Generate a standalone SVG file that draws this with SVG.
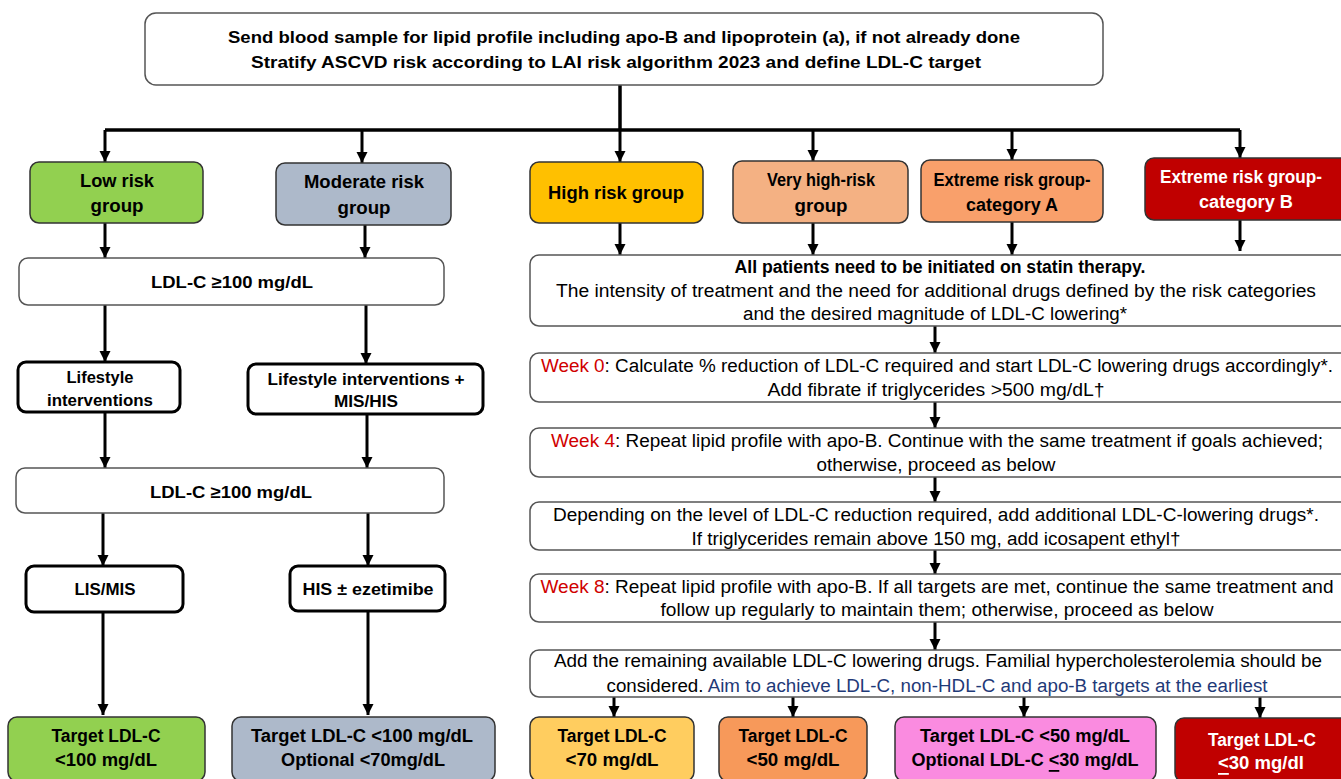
<svg xmlns="http://www.w3.org/2000/svg" width="1341" height="779" viewBox="0 0 1341 779">
<defs>
<marker id="ah" viewBox="0 0 10 10" refX="10" refY="5" markerWidth="11" markerHeight="12" markerUnits="userSpaceOnUse" orient="auto">
<path d="M0,0 L10,5 L0,10 z" fill="#000"/>
</marker>
<style>
text{font-family:"Liberation Sans",Arial,sans-serif;text-anchor:middle;dominant-baseline:central;fill:#000}
.b{font-weight:bold}
.t{font-size:18px}
.s{font-size:17px}
.w{fill:#fff}
.red{fill:#d00000}
.blue{fill:#1f3a78}
.thin{fill:#fff;stroke:#555;stroke-width:1.5}
.thick{fill:#fff;stroke:#000;stroke-width:3}
.grp{stroke:#333;stroke-width:1.5}
.c{fill:none;stroke:#000;stroke-width:3.5}
.c2{fill:none;stroke:#000;stroke-width:3;marker-end:url(#ah)}
</style>
</defs>
<rect width="1341" height="779" fill="#fff"/>

<g id="connectors">
<path class="c" d="M620,85 V130"/>
<path class="c" d="M105,130 H1240"/>
<path class="c2" d="M105,130 V162"/>
<path class="c2" d="M362,130 V163"/>
<path class="c2" d="M620,130 V162"/>
<path class="c2" d="M813,130 V161"/>
<path class="c2" d="M1012,130 V160"/>
<path class="c2" d="M1240,130 V158"/>
<path class="c2" d="M105,223 V258"/>
<path class="c2" d="M365,225 V258"/>
<path class="c2" d="M620,223 V255"/>
<path class="c2" d="M813,223 V255"/>
<path class="c2" d="M1012,222 V255"/>
<path class="c2" d="M1240,220 V251"/>
<path class="c2" d="M105,305 V362"/>
<path class="c2" d="M366,305 V364"/>
<path class="c2" d="M105,412 V468"/>
<path class="c2" d="M367,414 V468"/>
<path class="c2" d="M103,513 V566"/>
<path class="c2" d="M368,513 V566"/>
<path class="c2" d="M103,612 V715"/>
<path class="c2" d="M368,611 V715"/>
<path class="c2" d="M935,326 V353"/>
<path class="c2" d="M935,402 V428"/>
<path class="c2" d="M935,477 V502"/>
<path class="c2" d="M935,550 V574"/>
<path class="c2" d="M935,622 V650"/>
<path class="c2" d="M614,697 V717"/>
<path class="c2" d="M793,697 V717"/>
<path class="c2" d="M1024,697 V717"/>
<path class="c2" d="M1260,697 V718"/>
</g>

<g id="top">
<rect x="145" y="13" width="958" height="72" rx="11" class="thin"/>
<text x="624" y="37" class="b s" textLength="792" lengthAdjust="spacingAndGlyphs">Send blood sample for lipid profile including apo-B and lipoprotein (a), if not already done</text>
<text x="616" y="62" class="b s" textLength="730" lengthAdjust="spacingAndGlyphs">Stratify ASCVD risk according to LAI risk algorithm 2023 and define LDL-C target</text>
</g>

<g id="low-risk">
<rect x="30" y="162" width="173" height="61" rx="9" fill="#92d050" class="grp"/>
<text x="117" y="181" class="b t" textLength="74" lengthAdjust="spacingAndGlyphs">Low risk</text>
<text x="117" y="206" class="b t" textLength="53" lengthAdjust="spacingAndGlyphs">group</text>
</g>
<g id="moderate-risk">
<rect x="276" y="163" width="175" height="62" rx="9" fill="#adb9ca" class="grp"/>
<text x="364" y="182" class="b t" textLength="120" lengthAdjust="spacingAndGlyphs">Moderate risk</text>
<text x="364" y="208" class="b t" textLength="53" lengthAdjust="spacingAndGlyphs">group</text>
</g>
<g id="high-risk">
<rect x="530" y="162" width="173" height="61" rx="9" fill="#ffc000" class="grp"/>
<text x="616" y="193" class="b t" textLength="136" lengthAdjust="spacingAndGlyphs">High risk group</text>
</g>
<g id="very-high-risk">
<rect x="733" y="161" width="175" height="62" rx="9" fill="#f4b183" class="grp"/>
<text x="821" y="180" class="b t" textLength="108" lengthAdjust="spacingAndGlyphs">Very high-risk</text>
<text x="821" y="206" class="b t" textLength="53" lengthAdjust="spacingAndGlyphs">group</text>
</g>
<g id="extreme-a">
<rect x="921" y="160" width="182" height="62" rx="9" fill="#f9a06b" class="grp"/>
<text x="1012" y="180" class="b t" textLength="157" lengthAdjust="spacingAndGlyphs">Extreme risk group-</text>
<text x="1012" y="205" class="b t" textLength="92" lengthAdjust="spacingAndGlyphs">category A</text>
</g>
<g id="extreme-b">
<rect x="1145" y="158" width="205" height="62" rx="9" fill="#c00000" class="grp"/>
<text x="1241" y="177" class="b t w" textLength="162" lengthAdjust="spacingAndGlyphs">Extreme risk group-</text>
<text x="1246" y="202" class="b t w" textLength="94" lengthAdjust="spacingAndGlyphs">category B</text>
</g>

<g id="ldl-1">
<rect x="19" y="258" width="425" height="47" rx="9" class="thin"/>
<text x="232" y="282" class="b s" textLength="162" lengthAdjust="spacingAndGlyphs">LDL-C ≥100 mg/dL</text>
</g>
<g id="lifestyle">
<rect x="18" y="362" width="162" height="50" rx="8" class="thick"/>
<text x="100" y="377" class="b s" textLength="67" lengthAdjust="spacingAndGlyphs">Lifestyle</text>
<text x="100" y="400" class="b s" textLength="106" lengthAdjust="spacingAndGlyphs">interventions</text>
</g>
<g id="lifestyle-mis-his">
<rect x="248" y="364" width="235" height="50" rx="8" class="thick"/>
<text x="366" y="379" class="b s" textLength="197" lengthAdjust="spacingAndGlyphs">Lifestyle interventions +</text>
<text x="366" y="401" class="b s" textLength="64" lengthAdjust="spacingAndGlyphs">MIS/HIS</text>
</g>
<g id="ldl-2">
<rect x="16" y="468" width="428" height="45" rx="9" class="thin"/>
<text x="231" y="492" class="b s" textLength="162" lengthAdjust="spacingAndGlyphs">LDL-C ≥100 mg/dL</text>
</g>
<g id="lis-mis">
<rect x="26" y="566" width="157" height="46" rx="8" class="thick"/>
<text x="105" y="589" class="b s" textLength="61" lengthAdjust="spacingAndGlyphs">LIS/MIS</text>
</g>
<g id="his-ezetimibe">
<rect x="290" y="566" width="155" height="45" rx="8" class="thick"/>
<text x="368" y="589" class="b s" textLength="131" lengthAdjust="spacingAndGlyphs">HIS ± ezetimibe</text>
</g>

<g id="target-low">
<rect x="8" y="717" width="197" height="64" rx="9" fill="#92d050" class="grp"/>
<text x="106" y="736" class="b t" textLength="109" lengthAdjust="spacingAndGlyphs">Target LDL-C</text>
<text x="106" y="760" class="b t" textLength="102" lengthAdjust="spacingAndGlyphs">&lt;100 mg/dL</text>
</g>
<g id="target-moderate">
<rect x="232" y="717" width="263" height="64" rx="9" fill="#adb9ca" class="grp"/>
<text x="362" y="736" class="b t" textLength="222" lengthAdjust="spacingAndGlyphs">Target LDL-C &lt;100 mg/dL</text>
<text x="363" y="760" class="b t" textLength="164" lengthAdjust="spacingAndGlyphs">Optional &lt;70mg/dL</text>
</g>

<g id="statin">
<rect x="530" y="255" width="820" height="71" rx="9" class="thin"/>
<text x="940" y="267" class="b t" textLength="411" lengthAdjust="spacingAndGlyphs">All patients need to be initiated on statin therapy.</text>
<text x="936" y="291" class="t" textLength="760" lengthAdjust="spacingAndGlyphs">The intensity of treatment and the need for additional drugs defined by the risk categories</text>
<text x="935" y="314" class="t" textLength="384" lengthAdjust="spacingAndGlyphs">and the desired magnitude of LDL-C lowering*</text>
</g>
<g id="week0">
<rect x="530" y="353" width="820" height="49" rx="9" class="thin"/>
<text x="937" y="366" class="t" textLength="792" lengthAdjust="spacingAndGlyphs"><tspan class="red">Week 0</tspan>: Calculate % reduction of LDL-C required and start LDL-C lowering drugs accordingly*.</text>
<text x="936" y="390" class="t" textLength="337" lengthAdjust="spacingAndGlyphs">Add fibrate if triglycerides &gt;500 mg/dL†</text>
</g>
<g id="week4">
<rect x="530" y="428" width="820" height="49" rx="9" class="thin"/>
<text x="937" y="441" class="t" textLength="772" lengthAdjust="spacingAndGlyphs"><tspan class="red">Week 4</tspan>: Repeat lipid profile with apo-B. Continue with the same treatment if goals achieved;</text>
<text x="936" y="465" class="t" textLength="239" lengthAdjust="spacingAndGlyphs">otherwise, proceed as below</text>
</g>
<g id="depending">
<rect x="530" y="502" width="820" height="48" rx="9" class="thin"/>
<text x="936" y="515" class="t" textLength="766" lengthAdjust="spacingAndGlyphs">Depending on the level of LDL-C reduction required, add additional LDL-C-lowering drugs*.</text>
<text x="936" y="539" class="t" textLength="489" lengthAdjust="spacingAndGlyphs">If triglycerides remain above 150 mg, add icosapent ethyl†</text>
</g>
<g id="week8">
<rect x="530" y="574" width="820" height="48" rx="9" class="thin"/>
<text x="937" y="587" class="t" textLength="793" lengthAdjust="spacingAndGlyphs"><tspan class="red">Week 8</tspan>: Repeat lipid profile with apo-B. If all targets are met, continue the same treatment and</text>
<text x="937" y="610" class="t" textLength="553" lengthAdjust="spacingAndGlyphs">follow up regularly to maintain them; otherwise, proceed as below</text>
</g>
<g id="add-remaining">
<rect x="530" y="650" width="820" height="47" rx="9" class="thin"/>
<text x="938" y="661" class="t" textLength="768" lengthAdjust="spacingAndGlyphs">Add the remaining available LDL-C lowering drugs. Familial hypercholesterolemia should be</text>
<text x="937" y="686" class="t" textLength="661" lengthAdjust="spacingAndGlyphs">considered. <tspan class="blue">Aim to achieve LDL-C, non-HDL-C and apo-B targets at the earliest</tspan></text>
</g>

<g id="target-high">
<rect x="530" y="717" width="164" height="64" rx="9" fill="#ffcd5f" class="grp"/>
<text x="612" y="736" class="b t" textLength="109" lengthAdjust="spacingAndGlyphs">Target LDL-C</text>
<text x="612" y="760" class="b t" textLength="93" lengthAdjust="spacingAndGlyphs">&lt;70 mg/dL</text>
</g>
<g id="target-very-high">
<rect x="719" y="717" width="148" height="64" rx="9" fill="#f7995a" class="grp"/>
<text x="793" y="736" class="b t" textLength="109" lengthAdjust="spacingAndGlyphs">Target LDL-C</text>
<text x="793" y="760" class="b t" textLength="93" lengthAdjust="spacingAndGlyphs">&lt;50 mg/dL</text>
</g>
<g id="target-extreme-a">
<rect x="895" y="717" width="261" height="64" rx="9" fill="#fa8be0" class="grp"/>
<text x="1025" y="736" class="b t" textLength="210" lengthAdjust="spacingAndGlyphs">Target LDL-C &lt;50 mg/dL</text>
<text x="1025" y="760" class="b t" textLength="227" lengthAdjust="spacingAndGlyphs">Optional LDL-C <tspan text-decoration="underline">&lt;</tspan>30 mg/dL</text>
</g>
<g id="target-extreme-b">
<rect x="1175" y="718" width="175" height="64" rx="9" fill="#c00000" class="grp"/>
<text x="1262" y="740" class="b t w" textLength="108" lengthAdjust="spacingAndGlyphs">Target LDL-C</text>
<text x="1261" y="763" class="b t w" textLength="86" lengthAdjust="spacingAndGlyphs"><tspan text-decoration="underline">&lt;</tspan>30 mg/dl</text>
</g>
</svg>
